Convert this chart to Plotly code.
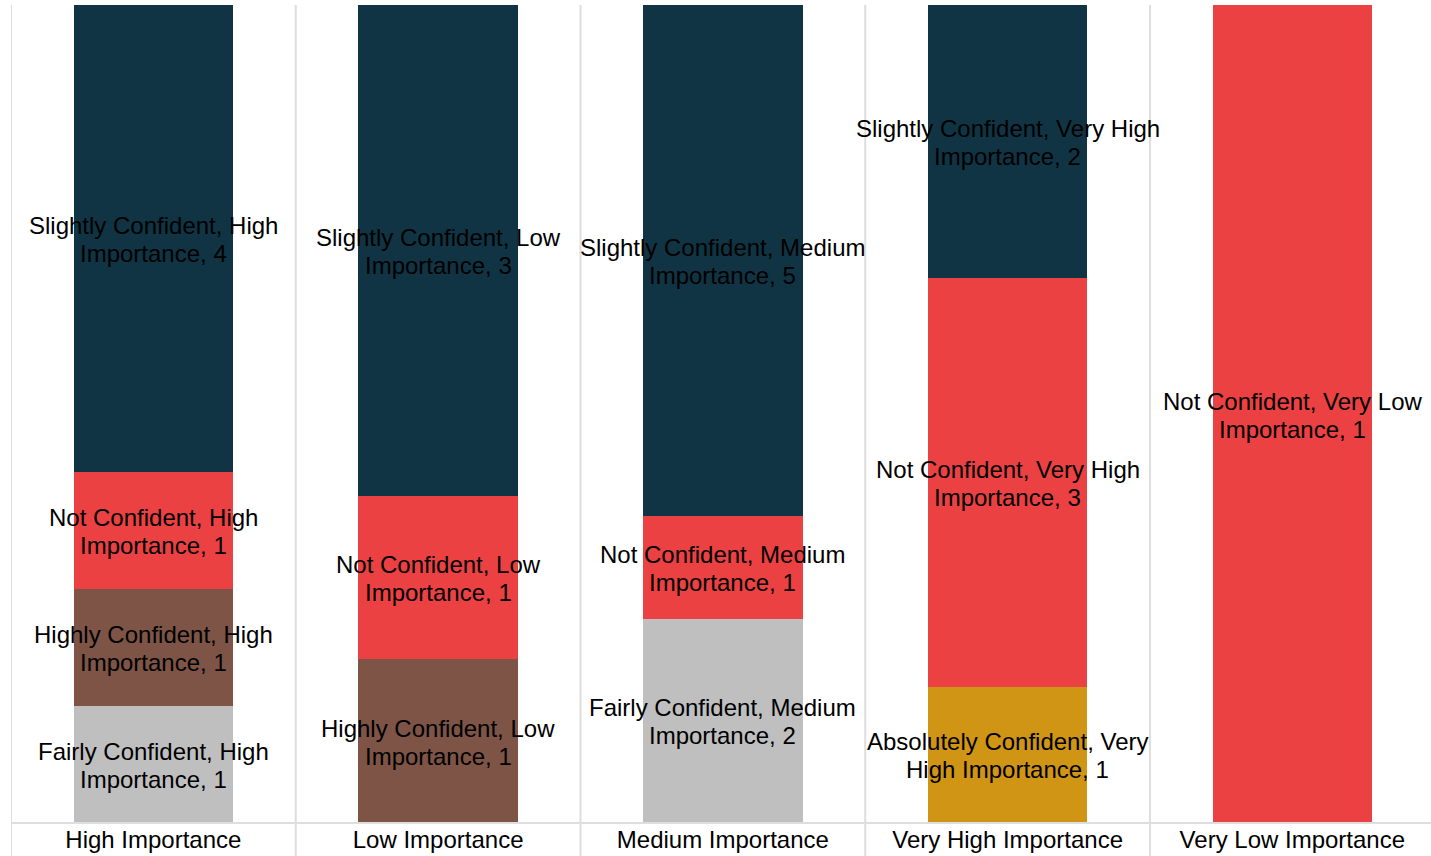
import textwrap
import plotly.graph_objects as go

categories = ["High Importance", "Low Importance", "Medium Importance",
              "Very High Importance", "Very Low Importance"]
short_cat = ["High", "Low", "Medium", "Very High", "Very Low"]

series_names = ["Absolutely Confident", "Fairly Confident", "Highly Confident",
                "Not Confident", "Slightly Confident"]
absolutely = [0, 0, 0, 1, 0]
fairly = [1, 0, 2, 0, 0]
highly = [1, 1, 0, 0, 0]
not_conf = [1, 1, 1, 3, 1]
slightly = [4, 3, 5, 2, 0]
series_values = [absolutely, fairly, highly, not_conf, slightly]
colors = ["#d09515", "#bfbfbf", "#7e5446", "#eb4143", "#103443"]

FONT = "Arial, Liberation Sans, sans-serif"

fig = go.Figure()
for name, vals, col in zip(series_names, series_values, colors):
    fig.add_trace(go.Bar(x=categories, y=vals, name=name, marker_color=col,
                         marker_line_width=0, hoverinfo="name+y"))

totals = [sum(s[i] for s in series_values) for i in range(len(categories))]
annotations = []
for i, cat in enumerate(categories):
    cum = 0
    for name, vals in zip(series_names, series_values):
        v = vals[i]
        if v == 0:
            continue
        mid = (cum + v / 2) / totals[i]
        cum += v
        label = f"{name}, {short_cat[i]} Importance, {v}"
        lines = textwrap.wrap(label, 29)
        n = len(lines)
        for k, line in enumerate(lines):
            annotations.append(dict(
                x=cat, y=mid, xref="x", yref="y", text=line, showarrow=False,
                yshift=(n - 1) / 2 * 28 - k * 28 - 1,
                font=dict(family=FONT, size=24, color="#000000"),
                xanchor="center", yanchor="middle"))

shapes = []
for j in range(len(categories)):
    shapes.append(dict(type="line", xref="x", yref="paper", x0=j - 0.5, x1=j - 0.5,
                       y0=-0.045, y1=1, line=dict(color="#dedede", width=2)))
shapes.append(dict(type="line", xref="paper", yref="paper", x0=0, x1=1, y0=0, y1=0,
                   line=dict(color="#dedede", width=2)))

fig.update_layout(
    width=1431, height=856,
    margin=dict(l=11, r=0, t=5, b=33),
    barmode="stack", barnorm="fraction", bargap=0.44,
    showlegend=False,
    plot_bgcolor="white", paper_bgcolor="white",
    annotations=annotations, shapes=shapes,
    font=dict(family=FONT, size=24, color="#000000"),
    xaxis=dict(showgrid=False, zeroline=False, showline=False, ticks="",
               tickfont=dict(family=FONT, size=24, color="#000000"),
               range=[-0.5, 4.487]),
    yaxis=dict(showgrid=False, zeroline=False, showline=False, showticklabels=False,
               range=[0, 1]),
)

fig.write_html("out.html")
